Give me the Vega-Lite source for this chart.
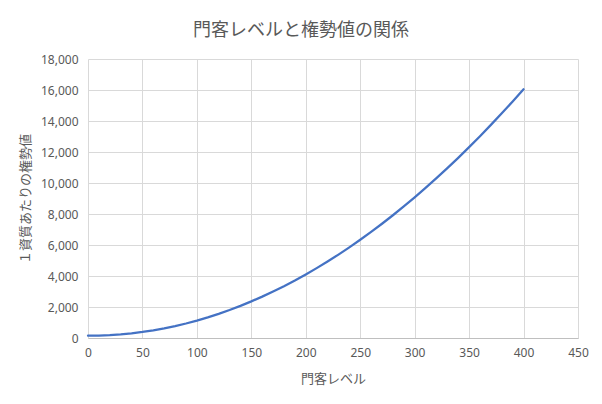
{
  "$schema": "https://vega.github.io/schema/vega-lite/v6.json",
  "autosize": {"type": "none"},
  "width": 490,
  "height": 279,
  "padding": {"left": 88, "top": 59, "right": 24, "bottom": 66},
  "background": "white",
  "title": {
    "text": "門客レベルと権勢値の関係",
    "anchor": "middle",
    "frame": "group",
    "dx": -32,
    "offset": 13,
    "fontSize": 18,
    "fontWeight": "normal",
    "color": "#595959",
    "font": "Noto Sans CJK JP"
  },
  "data": {
    "values": [
      {"level": 0, "power": 150},
      {"level": 10, "power": 158},
      {"level": 20, "power": 185},
      {"level": 30, "power": 232},
      {"level": 40, "power": 300},
      {"level": 50, "power": 388},
      {"level": 60, "power": 495},
      {"level": 70, "power": 622},
      {"level": 80, "power": 770},
      {"level": 90, "power": 937},
      {"level": 100, "power": 1125},
      {"level": 110, "power": 1332},
      {"level": 120, "power": 1560},
      {"level": 130, "power": 1808},
      {"level": 140, "power": 2075},
      {"level": 150, "power": 2362},
      {"level": 160, "power": 2670},
      {"level": 170, "power": 2998},
      {"level": 180, "power": 3345},
      {"level": 190, "power": 3712},
      {"level": 200, "power": 4100},
      {"level": 210, "power": 4508},
      {"level": 220, "power": 4935},
      {"level": 230, "power": 5382},
      {"level": 240, "power": 5850},
      {"level": 250, "power": 6338},
      {"level": 260, "power": 6845},
      {"level": 270, "power": 7372},
      {"level": 280, "power": 7920},
      {"level": 290, "power": 8488},
      {"level": 300, "power": 9075},
      {"level": 310, "power": 9682},
      {"level": 320, "power": 10310},
      {"level": 330, "power": 10958},
      {"level": 340, "power": 11625},
      {"level": 350, "power": 12312},
      {"level": 360, "power": 13020},
      {"level": 370, "power": 13748},
      {"level": 380, "power": 14495},
      {"level": 390, "power": 15262},
      {"level": 400, "power": 16050}
    ]
  },
  "mark": {"type": "line", "color": "#4472C4", "strokeWidth": 2.25, "strokeCap": "round"},
  "encoding": {
    "x": {
      "field": "level",
      "type": "quantitative",
      "title": "門客レベル",
      "scale": {"domain": [0, 450], "nice": false, "zero": true},
      "axis": {
        "values": [0, 50, 100, 150, 200, 250, 300, 350, 400, 450],
        "ticks": false,
        "domain": true,
        "domainColor": "#bfbfbf",
        "domainWidth": 1,
        "labelFlush": false,
        "labelPadding": 9,
        "titlePadding": 14
      }
    },
    "y": {
      "field": "power",
      "type": "quantitative",
      "title": "１資質あたりの権勢値",
      "scale": {"domain": [0, 18000], "nice": false},
      "axis": {
        "values": [0, 2000, 4000, 6000, 8000, 10000, 12000, 14000, 16000, 18000],
        "format": ",.0f",
        "ticks": false,
        "domain": false,
        "labelFlush": false,
        "labelPadding": 10,
        "titlePadding": 8
      }
    }
  },
  "config": {
    "font": "Noto Sans CJK JP",
    "view": {"stroke": null},
    "axis": {
      "gridColor": "#d9d9d9",
      "gridWidth": 1,
      "labelColor": "#595959",
      "labelFontSize": 12,
      "labelFont": "Noto Sans",
      "titleColor": "#595959",
      "titleFontSize": 13,
      "titleFontWeight": "normal",
      "titleFont": "Noto Sans CJK JP"
    }
  }
}
